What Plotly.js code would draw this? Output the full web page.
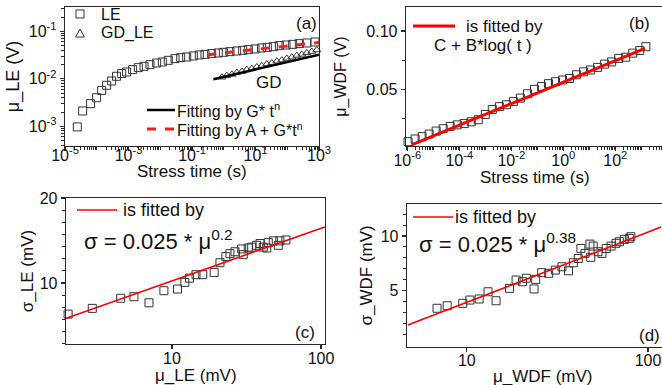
<!DOCTYPE html>
<html>
<head>
<meta charset="utf-8">
<script src="https://cdn.plot.ly/plotly-3.0.1.min.js"></script>
<style>html,body{margin:0;padding:0;background:#fff;}#chart{width:662px;height:385px;}</style>
</head>
<body>
<div id="chart"></div>
<script>
// ---------- data ----------
// (a) mu_LE vs stress time
const LE_t  = [2.44e-5,3.6e-5,6.4e-5,9.9e-5,1.43e-4,2.05e-4,2.95e-4,4.2e-4,6.1e-4,8.7e-4,1.35e-3,2.04e-3,3.08e-3,4.75e-3,7.7e-3,0.0116,0.0179,0.0292,0.044,0.068,0.110,0.170,0.256,0.416,0.674,0.97,1.57,2.55,3.94,5.94,9.64,15.6,23.6,36.5,56.4,91.4,148,240,409,748];
const LE_mu = [9.7e-4,2.1e-3,3.0e-3,4.0e-3,5.7e-3,7.3e-3,9.0e-3,0.0113,0.0129,0.0139,0.0156,0.0172,0.0183,0.0199,0.0215,0.0226,0.0245,0.0266,0.0279,0.0288,0.0303,0.0318,0.0328,0.0339,0.035,0.0361,0.0373,0.0385,0.0398,0.0411,0.0425,0.0446,0.046,0.0475,0.0499,0.0515,0.0532,0.055,0.0568,0.0596];
const GD_t  = [0.87,1.25,1.8,2.58,3.72,5.33,7.66,11.0,15.8,22.7,32.7,46.9,67.4,96.8,139,200,287,413,593,851];
const GD_mu = [0.0108,0.0117,0.0124,0.0136,0.0143,0.0156,0.0164,0.0178,0.0188,0.0205,0.0216,0.0234,0.0248,0.0268,0.0285,0.0309,0.0327,0.0352,0.0375,0.0405];
const fitGD_t  = [0.47,1000];
const fitGD_mu = [0.0098,0.032];
const fitLE_t  = [0.3,1,3,10,30,100,300,1000];
const fitLE_mu = [0.0318,0.0352,0.0383,0.0415,0.045,0.049,0.0535,0.0585];
// (b) mu_WDF vs stress time
const WDF_t  = [1.07e-6,2.0e-6,3.72e-6,6.92e-6,1.29e-5,2.40e-5,4.47e-5,8.32e-5,1.55e-4,2.88e-4,5.37e-4,1.0e-3,1.86e-3,3.47e-3,6.46e-3,0.0120,0.0224,0.0417,0.0776,0.1445,0.269,0.501,0.933,1.74,3.24,6.03,11.2,20.9,38.9,72.4,135,251,468,871,1500];
const WDF_mu = [0.0052,0.0075,0.0095,0.0117,0.0143,0.0163,0.0183,0.0196,0.0207,0.0222,0.0240,0.0285,0.0328,0.0352,0.0368,0.0395,0.0425,0.0462,0.0500,0.0524,0.0549,0.0565,0.0580,0.0593,0.0625,0.0650,0.0666,0.0688,0.0716,0.0735,0.0765,0.0775,0.0810,0.0832,0.0865];
const fitB_t  = [1.48e-6,1380];
const fitB_mu = [0.0025,0.085];
// (c) sigma_LE vs mu_LE (mV)
const C_mu    = [2.01,2.92,4.53,5.56,7.01,8.83,10.9,12.2,13.1,14.5,16.1,19.2,21.0,23.0,24.5,26.5,30.1,29.4,32.5,34.3,37.0,39.0,41.0,44.3,47.9,51.7,53.0,58.2,43.3];
const C_sigma = [7.76,8.13,8.83,8.94,8.51,9.39,9.52,10.05,10.4,10.7,10.7,10.9,11.8,12.4,12.7,12.9,12.6,13.2,13.3,13.4,13.6,13.8,13.4,13.9,14.1,13.6,14.1,14.2,13.3];
const fitC_mu    = [1.95,106];
const fitC_sigma = [7.5,15.8];
// (d) sigma_WDF vs mu_WDF (mV)
const D_mu    = [6.85,7.79,9.5,10.4,11.7,13.1,14.5,17.2,18.7,20.3,21.3,23.5,24.0,25.9,28.3,30.8,33.5,36.4,38.7,41.2,42.6,44.9,47.8,49.8,48.3,53.0,55.7,58.8,62.5,66.6,69.5,74.0,78.8,80.4];
const D_sigma = [4.01,4.14,4.27,4.45,4.51,4.94,4.41,5.16,5.73,5.61,5.86,5.12,5.78,6.29,6.24,6.50,6.78,6.44,7.13,7.53,8.55,8.03,9.03,8.81,7.64,8.20,8.03,8.55,8.81,9.12,9.31,9.59,9.71,9.91];
const fitD_mu    = [4.73,118];
const fitD_sigma = [3.24,11.2];
// tick labels
const A_xticks = [1e-5,1e-3,1e-1,10,1000];
const A_xtext  = ['10<sup>-5</sup>','10<sup>-3</sup>','10<sup>-1</sup>','10<sup>1</sup>','10<sup>3</sup>'];
const A_yticks = [1e-3,1e-2,1e-1];
const A_ytext  = ['10<sup>-3</sup>','10<sup>-2</sup>','10<sup>-1</sup>'];
const B_xticks = [1e-6,1e-4,1e-2,1,100];
const B_xtext  = ['10<sup>-6</sup>','10<sup>-4</sup>','10<sup>-2</sup>','10<sup>0</sup>','10<sup>2</sup>'];
const C_xticks = [10,100], C_xtext = ['10','100'];
const C_yticks = [10,20],  C_ytext = ['10','20'];
const D_xticks = [10,100], D_xtext = ['10','100'];
const D_yticks = [5,10,15], D_ytext = ['5','10','15'];
// axis titles
const TITLE_A_X = 'Stress time (s)', TITLE_A_Y = 'μ_LE (V)';
const TITLE_B_X = 'Stress time (s)', TITLE_B_Y = 'μ_WDF (V)';
const TITLE_C_X = 'μ_LE (mV)',       TITLE_C_Y = 'σ_LE (mV)';
const TITLE_D_X = 'μ_WDF (mV)',      TITLE_D_Y = 'σ_WDF (mV)';

// ---------- layout helpers ----------
const W = 662, H = 385;
const fx = x => x / W;
const fy = y => 1 - y / H;
const FONT = 'Liberation Sans, Arial, sans-serif';
const AX = '#2a2a2a';

function logMinor(lo, hi, skipDecades) {
  const out = [];
  for (let e = lo; e <= hi; e++) {
    for (let k = 2; k <= 9; k++) out.push(k * Math.pow(10, e));
    if (skipDecades && !skipDecades.includes(e)) out.push(Math.pow(10, e));
  }
  return out;
}
function geoMinor(base, step, n) {
  const out = [];
  for (let k = -n; k <= n; k++) if (k !== 0) out.push(base * Math.pow(10, k * step));
  return out;
}

const baseAxis = {
  showgrid: false, zeroline: false, showline: true, linecolor: AX, linewidth: 1.3,
  ticks: 'outside', ticklen: 4, tickwidth: 1.2, tickcolor: AX,
  tickfont: {family: FONT, size: 16, color: '#111'},
  ticklabeloverflow: 'allow',
  mirror: true
};
function ax(o) { return Object.assign({}, JSON.parse(JSON.stringify(baseAxis)), o); }
const minorStyle = (vals, len) => ({tickvals: vals, ticklen: len, tickwidth: 1, tickcolor: AX, ticks: 'outside'});

const sq = (s) => ({symbol: 'square-open', size: s, color: '#333', line: {width: 1, color: '#333'}});

const traces = [
  {x: LE_t, y: LE_mu, xaxis: 'x', yaxis: 'y', mode: 'markers', marker: sq(8), cliponaxis: false, name: 'LE'},
  {x: GD_t, y: GD_mu, xaxis: 'x', yaxis: 'y', mode: 'markers', marker: {symbol: 'triangle-up-open', size: 7, color: '#333', line: {width: 1, color: '#333'}}, cliponaxis: false, name: 'GD_LE'},
  {x: fitGD_t, y: fitGD_mu, xaxis: 'x', yaxis: 'y', mode: 'lines', line: {color: '#000', width: 2.5}, name: 'Fitting by G* t^n'},
  {x: fitLE_t, y: fitLE_mu, xaxis: 'x', yaxis: 'y', mode: 'lines', line: {color: '#ff1a1a', width: 3, dash: 'dash', shape: 'spline'}, name: 'Fitting by A + G*t^n'},
  {x: WDF_t, y: WDF_mu, xaxis: 'x2', yaxis: 'y2', mode: 'markers', marker: sq(8), cliponaxis: false, name: 'WDF'},
  {x: fitB_t, y: fitB_mu, xaxis: 'x2', yaxis: 'y2', mode: 'lines', line: {color: '#ff0000', width: 3}, name: 'C + B*log(t)'},
  {x: C_mu, y: C_sigma, xaxis: 'x3', yaxis: 'y3', mode: 'markers', marker: sq(8), cliponaxis: false, name: 'sigma_LE'},
  {x: fitC_mu, y: fitC_sigma, xaxis: 'x3', yaxis: 'y3', mode: 'lines', line: {color: '#ff0000', width: 1.6}, name: 'fit c'},
  {x: D_mu, y: D_sigma, xaxis: 'x4', yaxis: 'y4', mode: 'markers', marker: sq(8), cliponaxis: false, name: 'sigma_WDF'},
  {x: fitD_mu, y: fitD_sigma, xaxis: 'x4', yaxis: 'y4', mode: 'lines', line: {color: '#ff0000', width: 1.6}, name: 'fit d'}
];

const yTitle = (text, standoff, size) => ({text: text, standoff: standoff, font: {family: FONT, size: size, color: '#111'}});

const layout = {
  width: W, height: H, margin: {l: 0, r: 0, t: 0, b: 0},
  paper_bgcolor: '#fff', plot_bgcolor: '#fff', showlegend: false,
  font: {family: FONT, size: 16, color: '#111'},
  xaxis: ax({domain: [fx(65), fx(319)], anchor: 'y', type: 'log', range: [-5, 3],
    tickmode: 'array', tickvals: A_xticks, ticktext: A_xtext, ticklabelstandoff: -10,
    minor: minorStyle(logMinor(-5, 2, [-5, -3, -1, 1]), 2.5)}),
  yaxis: ax({domain: [fy(146), fy(7)], anchor: 'x', type: 'log', range: [-3.415, -0.488],
    tickmode: 'array', tickvals: A_yticks, ticktext: A_ytext,
    minor: minorStyle(logMinor(-4, -1), 2.5),
    title: yTitle(TITLE_A_Y, 4, 18)}),
  xaxis2: ax({domain: [fx(406), 1], anchor: 'y2', type: 'log', range: [-6.05, 3.796],
    tickmode: 'array', tickvals: B_xticks, ticktext: B_xtext, ticklabelstandoff: -5,
    minor: minorStyle(logMinor(-7, 3, [-6, -4, -2, 0, 2]), 2.5)}),
  yaxis2: ax({domain: [fy(146), fy(7)], anchor: 'x2', range: [0.0015, 0.1205], mirror: false,
    tick0: 0, dtick: 0.05, tickformat: '.2f',
    minor: {tick0: 0, dtick: 0.025, ticklen: 3, tickwidth: 1, tickcolor: AX, ticks: 'outside'},
    title: yTitle(TITLE_B_Y, 15, 16)}),
  xaxis3: ax({domain: [fx(66), fx(325)], anchor: 'y3', type: 'log', range: [0.289, 2.027],
    tickmode: 'array', tickvals: C_xticks, ticktext: C_xtext, ticklabelstandoff: -5}),
  yaxis3: ax({domain: [fy(344), fy(198)], anchor: 'x3', type: 'log', range: [0.784, 1.301],
    tickmode: 'array', tickvals: C_yticks, ticktext: C_ytext,
    minor: minorStyle(geoMinor(10, 0.043, 7), 3),
    title: yTitle(TITLE_C_Y, 1, 17)}),
  xaxis4: ax({domain: [fx(407), 1], anchor: 'y4', type: 'log', range: [0.670, 2.077],
    tickmode: 'array', tickvals: D_xticks, ticktext: D_xtext, ticklabelstandoff: -5}),
  yaxis4: ax({domain: [fy(346.7), fy(204)], anchor: 'x4', type: 'log', range: [0.392, 1.176], mirror: false,
    tickmode: 'array', tickvals: D_yticks, ticktext: D_ytext,
    minor: minorStyle(geoMinor(10, 0.0602, 9), 3),
    title: yTitle(TITLE_D_Y, 3, 17)}),
  shapes: [
    // legend samples (a)
    {type: 'rect', xref: 'paper', yref: 'paper', x0: fx(76), x1: fx(84), y0: fy(18), y1: fy(10), line: {color: '#333', width: 1}},
    {type: 'path', xref: 'paper', yref: 'paper', path: `M${fx(75.5)},${fy(37)} L${fx(84.5)},${fy(37)} L${fx(80)},${fy(29)} Z`, line: {color: '#333', width: 1}},
    {type: 'line', xref: 'paper', yref: 'paper', x0: fx(147), x1: fx(175), y0: fy(110), y1: fy(110), line: {color: '#000', width: 2.5}},
    {type: 'line', xref: 'paper', yref: 'paper', x0: fx(147), x1: fx(175), y0: fy(129), y1: fy(129), line: {color: '#ff1a1a', width: 3, dash: 'dash'}},
    // legend samples (b), (c), (d)
    {type: 'line', xref: 'paper', yref: 'paper', x0: fx(413), x1: fx(455), y0: fy(26), y1: fy(26), line: {color: '#ff0000', width: 3}},
    {type: 'line', xref: 'paper', yref: 'paper', x0: fx(77), x1: fx(117), y0: fy(210), y1: fy(210), line: {color: '#ff0000', width: 1.6}},
    {type: 'line', xref: 'paper', yref: 'paper', x0: fx(413), x1: fx(453), y0: fy(217), y1: fy(217), line: {color: '#ff0000', width: 1.6}}
  ],
  annotations: []
};

function note(text, x, y, size, anchor) {
  layout.annotations.push({text: text, xref: 'paper', yref: 'paper', x: fx(x), y: fy(y),
    xanchor: anchor || 'left', yanchor: 'middle', showarrow: false,
    font: {family: FONT, size: size, color: '#111'}});
}
// x axis titles (placed tight under the tick labels as in the reference)
note(TITLE_A_X, 192, 172, 17, 'center');
note(TITLE_B_X, 535, 177, 17, 'center');
note(TITLE_C_X, 196, 375, 17, 'center');
note(TITLE_D_X, 543, 376, 17, 'center');
// legends and labels
note('LE', 99, 14, 16);
note('GD_LE', 99, 33, 16);
note('Fitting by G* t<sup>n</sup>', 175, 110, 16);
note('Fitting by A + G*t<span style="font-size:15px"><sup>n</sup></span>', 175, 129, 16);
note('(a)', 306, 23, 17, 'center');
note('GD', 269, 83, 17, 'center');
note('is fitted by', 464, 26, 17);
note('C + B*log( t )', 432, 45, 17);
note('(b)', 639, 23, 17, 'center');
note('is fitted by', 121, 210, 18);
note('σ = 0.025 * μ<sup>0.2</sup>', 82, 240, 22);
note('(c)', 305, 332, 17, 'center');
note('is fitted by', 453, 217, 18);
note('σ = 0.025 * μ<sup>0.38</sup>', 417, 243, 22);
note('(d)', 649, 335, 17, 'center');

Plotly.newPlot('chart', traces, layout, {staticPlot: true, displayModeBar: false});
</script>
</body>
</html>
